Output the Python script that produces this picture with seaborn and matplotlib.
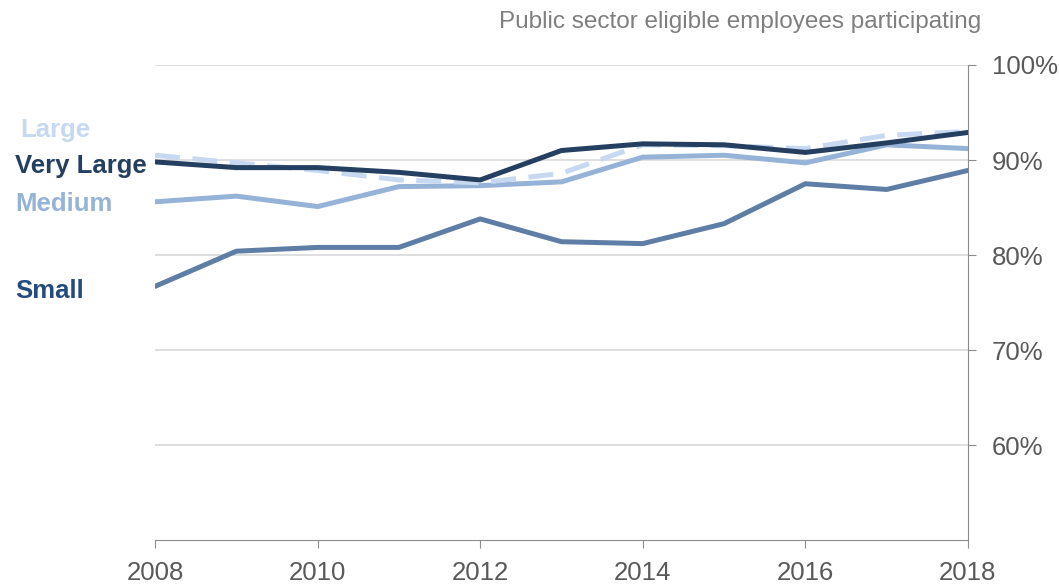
import pandas as pd
import seaborn as sns
import matplotlib.pyplot as plt
from matplotlib.ticker import FuncFormatter

years = list(range(2008, 2019))
very_large = [89.8, 89.2, 89.2, 88.7, 87.9, 91.0, 91.7, 91.6, 90.8, 91.8, 92.9]
large = [90.5, 89.7, 88.9, 87.9, 87.6, 88.6, 91.6, 91.5, 91.2, 92.6, 93.0]
medium = [85.6, 86.2, 85.1, 87.2, 87.3, 87.7, 90.3, 90.5, 89.7, 91.6, 91.2]
small = [76.7, 80.4, 80.8, 80.8, 83.8, 81.4, 81.2, 83.3, 87.5, 86.9, 88.9]

series = ["Large", "Very Large", "Medium", "Small"]
values = {"Large": large, "Very Large": very_large, "Medium": medium, "Small": small}
line_colors = {"Large": "#c6d9f1", "Very Large": "#243f60", "Medium": "#95b3d7", "Small": "#5f7ea6"}
label_colors = {"Large": "#c6d9f1", "Very Large": "#243f60", "Medium": "#95b3d7", "Small": "#254a7e"}
label_y = {"Large": 93.2, "Very Large": 89.4, "Medium": 85.4, "Small": 76.2}
label_x = {"Large": -0.166, "Very Large": -0.172, "Medium": -0.172, "Small": -0.172}

rows = []
for s in series:
    for y, v in zip(years, values[s]):
        rows.append({"year": y, "value": v, "size": s})
df = pd.DataFrame(rows)

sns.set_style("white")
plt.rcParams["font.family"] = ["Liberation Sans", "DejaVu Sans"]

fig = plt.figure(figsize=(10.59, 5.84), dpi=100)
ax = fig.add_axes([0.1464, 0.0753, 0.7676, 0.8134])

# solid lines first, dashed "Large" over them, very large on top
for s in ["Medium", "Small", "Large", "Very Large"]:
    sub = df[df["size"] == s]
    sns.lineplot(data=sub, x="year", y="value", ax=ax, color=line_colors[s],
                 linewidth=3.6, linestyle=(0, (5, 2.5)) if s == "Large" else "-",
                 legend=False)

ax.set_xlim(2008, 2018)
ax.set_ylim(50, 100)
ax.set_xticks([2008, 2010, 2012, 2014, 2016, 2018])
ax.set_yticks([60, 70, 80, 90, 100])
ax.yaxis.set_major_formatter(FuncFormatter(lambda v, p: f"{v:.0f}%"))
ax.yaxis.tick_right()
ax.grid(axis="y", color="#d9d9d9", linewidth=1.2)
ax.set_axisbelow(True)
for side in ["top", "left"]:
    ax.spines[side].set_visible(False)
ax.spines["right"].set_color("#8c8c8c")
ax.spines["bottom"].set_color("#8c8c8c")
ax.tick_params(axis="y", colors="#8c8c8c", labelcolor="#595959", labelsize=18.5,
               length=6, direction="out", pad=11, right=True, left=False)
ax.tick_params(axis="x", colors="#8c8c8c", labelcolor="#595959", labelsize=18.5,
               length=6, direction="out", pad=9, bottom=True)
ax.set_xlabel("")
ax.set_ylabel("")

for s in series:
    ax.text(label_x[s], label_y[s], s, transform=ax.get_yaxis_transform(),
            color=label_colors[s], fontsize=18.5, fontweight="bold",
            ha="left", va="center")

fig.text(0.927, 0.962, "Public sector eligible employees participating",
         ha="right", va="center", fontsize=17.5, color="#7f7f7f")

fig.savefig("out.png", dpi=100)
